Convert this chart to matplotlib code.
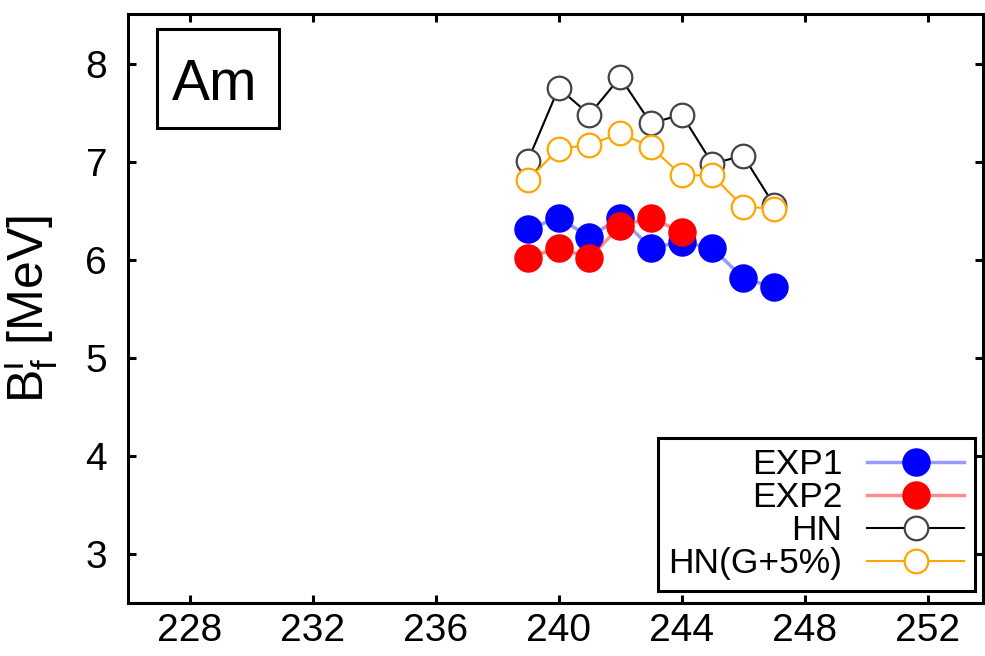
import matplotlib
matplotlib.use("Agg")
import matplotlib.pyplot as plt
from matplotlib.patches import Rectangle

plt.rcParams['font.family'] = ['Liberation Sans', 'DejaVu Sans']
plt.rcParams['mathtext.fontset'] = 'custom'
plt.rcParams['mathtext.rm'] = 'Liberation Sans'
plt.rcParams['mathtext.it'] = 'Liberation Sans:italic'

# mass numbers and fission barrier heights (MeV)
a_exp1 = [239, 240, 241, 242, 243, 244, 245, 246, 247]
b_exp1 = [6.31, 6.43, 6.23, 6.43, 6.12, 6.18, 6.12, 5.81, 5.72]

a_exp2 = [239, 240, 241, 242, 243, 244]
b_exp2 = [6.02, 6.12, 6.02, 6.34, 6.43, 6.28]

a_hn = [239, 240, 241, 242, 243, 244, 245, 246, 247]
b_hn = [7.01, 7.75, 7.48, 7.86, 7.39, 7.48, 6.98, 7.06, 6.56]

a_hn5 = [239, 240, 241, 242, 243, 244, 245, 246, 247]
b_hn5 = [6.81, 7.13, 7.17, 7.29, 7.15, 6.86, 6.86, 6.54, 6.52]

xticks = [228, 232, 236, 240, 244, 248, 252]
yticks = [3, 4, 5, 6, 7, 8]

fig = plt.figure(figsize=(9.85, 6.56), dpi=100)
ax = fig.add_axes([0.130, 0.0808, 0.868, 0.8971])

# connecting lines drawn faint, markers on top
ax.plot(a_hn, b_hn, color='black', lw=1.5, marker='o', ms=17, mfc='white',
        mec='#444444', mew=1.6, label='HN', zorder=2)
ax.plot(a_hn5, b_hn5, color='#ffa500', lw=1.5, marker='o', ms=17, mfc='white',
        mec='#ffa500', mew=1.6, label='HN(G+5%)', zorder=3)
ax.plot(a_exp1, b_exp1, color=(0, 0, 1, 0.4), lw=2.5, marker='o', ms=19.5,
        mfc='blue', mec='blue', label='EXP1', zorder=4)
ax.plot(a_exp2, b_exp2, color=(1, 0, 0, 0.45), lw=2.5, marker='o', ms=19.5,
        mfc='red', mec='red', label='EXP2', zorder=5)

ax.set_xlim(226, 253.8)
ax.set_ylim(2.5, 8.5)
ax.set_xticks(xticks)
ax.set_yticks(yticks)
ax.tick_params(direction='in', top=True, right=True, length=5.5, width=2.2,
               labelsize=28)
ax.tick_params(axis='x', pad=7)
ax.tick_params(axis='y', pad=15)
for s in ax.spines.values():
    s.set_linewidth(2.2)

ax.set_ylabel(r'B$_{\rm f}^{\rm i}$ [MeV]', fontsize=36)
ax.yaxis.set_label_coords(-0.078, 0.5)

# element tag
ax.add_patch(Rectangle((0.034, 0.807), 0.1427, 0.168, transform=ax.transAxes,
                       fill=False, ec='black', lw=2.2, zorder=6))
ax.text(0.0515, 0.8547, 'Am', transform=ax.transAxes, fontsize=41,
        ha='left', va='baseline', zorder=7)

handles, labels = ax.get_legend_handles_labels()
order = [2, 3, 0, 1]
leg = ax.legend([handles[i] for i in order], [labels[i] for i in order],
                loc='lower right', bbox_to_anchor=(0.9906, 0.0204),
                borderaxespad=0, fontsize=25.5, markerfirst=False,
                handlelength=2.75, handletextpad=0.7, labelspacing=0.0,
                fancybox=False, framealpha=1, edgecolor='black',
                borderpad=0.3)
leg.get_frame().set_linewidth(2.2)
for t in leg.get_texts():
    t.set_ha('right')

fig.savefig('out.png', dpi=100)
